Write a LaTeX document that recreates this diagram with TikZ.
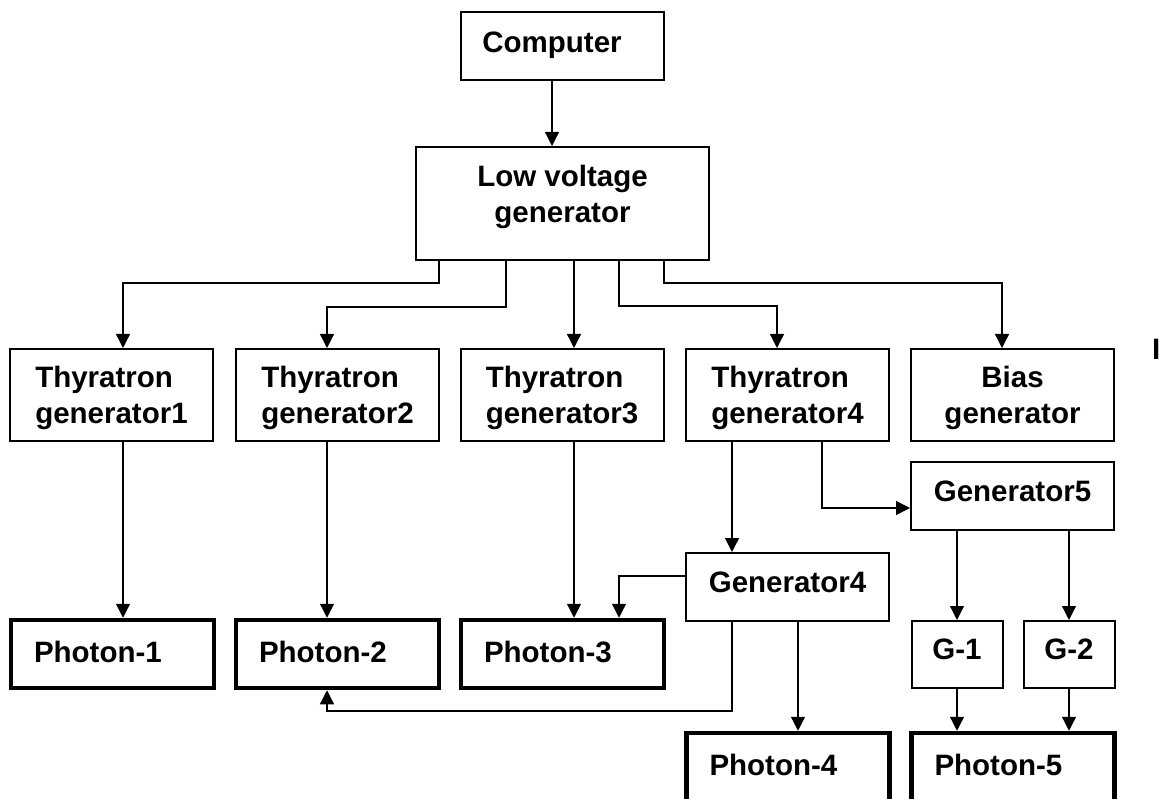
\documentclass[tikz,border=0pt]{standalone}
\usepackage{fontspec}
\setmainfont{Liberation Sans}
\usetikzlibrary{arrows.meta}
\begin{document}
\begin{tikzpicture}[x=1pt,y=-1pt,
  lbl/.style={font=\bfseries\fontsize{29.5}{36}\selectfont},
  box/.style={lbl, draw, line width=2pt, inner sep=0pt, align=center,
    minimum width=203pt, minimum height=68pt},
  twoline/.style={minimum height=92pt, text depth=0pt},
  onegen/.style={text depth=10pt},
  photon/.style={lbl, draw, line width=4.5pt, inner xsep=23pt, inner ysep=0pt,
    text width=157pt, align=left, minimum height=68pt, text depth=5pt},
  conn/.style={line width=1.3pt, -{Triangle[width=14pt,length=14pt]}}
]
\useasboundingbox (0,0) rectangle (1159,799);

% boxes
\node[box, text depth=8pt] (comp) at (562.5,46) {Computer\hspace*{21pt}};
\node[box, minimum width=293pt, minimum height=113pt, text depth=20pt] (low) at (562.5,203.5) {Low voltage\\generator};

\node[box, twoline, align=left] (t1) at (111.5,395) {Thyratron\\generator1};
\node[box, twoline, align=left] (t2) at (337.5,395) {Thyratron\\generator2};
\node[box, twoline, align=left] (t3) at (562,395) {Thyratron\\generator3};
\node[box, twoline, align=left] (t4) at (787.5,395) {Thyratron\\generator4};
\node[box, twoline] (bias) at (1012.5,395) {Bias\\generator};

\node[box, onegen] (gen5) at (1012.5,496) {Generator5};
\node[box, onegen] (gen4) at (787.5,587) {Generator4};

\node[box, onegen, minimum width=91pt, minimum height=67pt] (g1) at (957,654.5) {G-1};
\node[box, onegen, minimum width=91pt, minimum height=67pt] (g2) at (1069,654.5) {G-2};

\node[photon] (p1) at (112.5,654) {Photon-1};
\node[photon] (p2) at (337.5,654) {Photon-2};
\node[photon] (p3) at (562.5,654) {Photon-3};
\node[photon] (p4) at (788,767) {Photon-4};
\node[photon] (p5) at (1013,767) {Photon-5};

\node[lbl, anchor=base west, inner sep=0pt] (stray) at (1152,360) {I};

% connectors
\draw[conn] ([xshift=-10.5pt]comp.south) -- ([xshift=-10.5pt]comp.south |- low.north);

\draw[conn] ([xshift=-123.5pt]low.south) -- ++(0,22) -| ([xshift=11.5pt]t1.north);
\draw[conn] ([xshift=-56.5pt]low.south) -- ++(0,46) -| ([xshift=-10.5pt]t2.north);
\draw[conn] ([xshift=11.5pt]low.south) -- ([xshift=11.5pt]low.south |- t3.north);
\draw[conn] ([xshift=56.5pt]low.south) -- ++(0,45) -| ([xshift=-10.5pt]t4.north);
\draw[conn] ([xshift=101.5pt]low.south) -- ++(0,22) -| ([xshift=-10.5pt]bias.north);

\draw[conn] ([xshift=11.5pt]t1.south) -- ([xshift=11.5pt]t1.south |- p1.north);
\draw[conn] ([xshift=-10.5pt]t2.south) -- ([xshift=-10.5pt]t2.south |- p2.north);
\draw[conn] ([xshift=12pt]t3.south) -- ([xshift=12pt]t3.south |- p3.north);

\draw[conn] ([xshift=-55.5pt]t4.south) -- ([xshift=-55.5pt]t4.south |- gen4.north);
\draw[conn] ([xshift=34.5pt]t4.south) |- ([yshift=-12pt]gen5.west);

\draw[conn] ([yshift=11pt]gen4.west) -| ([xshift=56.5pt]p3.north);
\draw[conn] ([xshift=-55.5pt]gen4.south) -- ++(0,89) -| ([xshift=-10.5pt]p2.south);
\draw[conn] ([xshift=10.5pt]gen4.south) -- ([xshift=10.5pt]gen4.south |- p4.north);

\draw[conn] ([xshift=-55.5pt]gen5.south) -- ([xshift=-55.5pt]gen5.south |- g1.north);
\draw[conn] ([xshift=56.5pt]gen5.south) -- ([xshift=56.5pt]gen5.south |- g2.north);
\draw[conn] (g1.south) -- (g1.south |- p5.north);
\draw[conn] (g2.south) -- (g2.south |- p5.north);
\end{tikzpicture}
\end{document}
